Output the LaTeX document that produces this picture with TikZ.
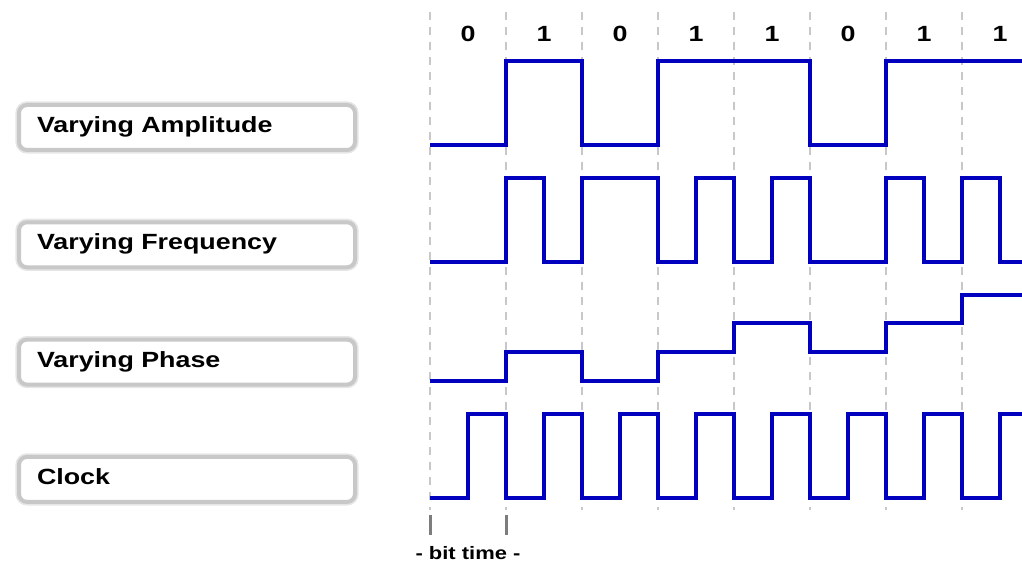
\documentclass[tikz,border=0pt]{standalone}
\usepackage{fontspec}
\setmainfont{Liberation Sans}[FakeStretch=1.22]
\definecolor{sig}{RGB}{0,0,190}
\definecolor{frame}{RGB}{200,200,200}
\definecolor{tickgray}{RGB}{125,125,125}
\begin{document}
\begin{tikzpicture}[x=0.5pt,y=-0.5pt,font=\bfseries\fontsize{11}{13}\selectfont,line join=miter,
		signal/.style={sig,line width=1.6pt},
		grid/.style={frame,line width=0.6pt,dash pattern=on 4pt off 3.5pt},
		lbl/.style={draw=frame,line width=2pt,fill=white,rounded corners=4pt,
			preaction={draw=frame!45,line width=3.6pt},
			text width=150pt,align=left,inner xsep=9pt,minimum height=22.5pt,
			text height=8pt,text depth=3pt},
		bit/.style={font=\bfseries\fontsize{11}{13}\selectfont}]
	\useasboundingbox (0,0) rectangle (1022,561);
	\foreach \i in {0,...,7} \draw[grid] (430+76*\i,12) -- (430+76*\i,510);
	\foreach \b [count=\i from 0] in {0,1,0,1,1,0,1,1} \node[bit] (bit\i) at (468+76*\i,34) {\b};
	\foreach \t/\n [count=\i from 0] in {Varying Amplitude/amp,Varying Frequency/freq,Varying Phase/phase,Clock/clk}
		\node[lbl] (\n) at (187,127.5+117.3*\i) {\t};
	% amplitude
	\draw[signal] (430,145) -| (506,61) -| (582,145) -| (658,61) -| (810,145) -| (886,61) -- (1022,61);
	% frequency
	\draw[signal] (430,262) -| (506,178) -| (544,262) -| (582,178) -| (658,262) -| (696,178) -| (734,262)
		-| (772,178) -| (810,262) -| (886,178) -| (924,262) -| (962,178) -| (1000,262) -- (1022,262);
	% phase
	\draw[signal] (430,381) -| (506,352) -| (582,381) -| (658,352) -| (734,323) -| (810,352) -| (886,323)
		-| (962,295) -- (1022,295);
	% clock
	\draw[signal] (430,498) foreach \i in {0,...,6} { -| (468+76*\i,414) -| (506+76*\i,498) } -| (1000,414) -- (1022,414);
	\foreach \x in {430,506} \draw[tickgray,line width=1.5pt] (\x,515) -- (\x,535);
	\node[font=\bfseries\fontsize{9}{11}\selectfont] (bittime) at (468,553) {- bit time -};
\end{tikzpicture}
\end{document}
